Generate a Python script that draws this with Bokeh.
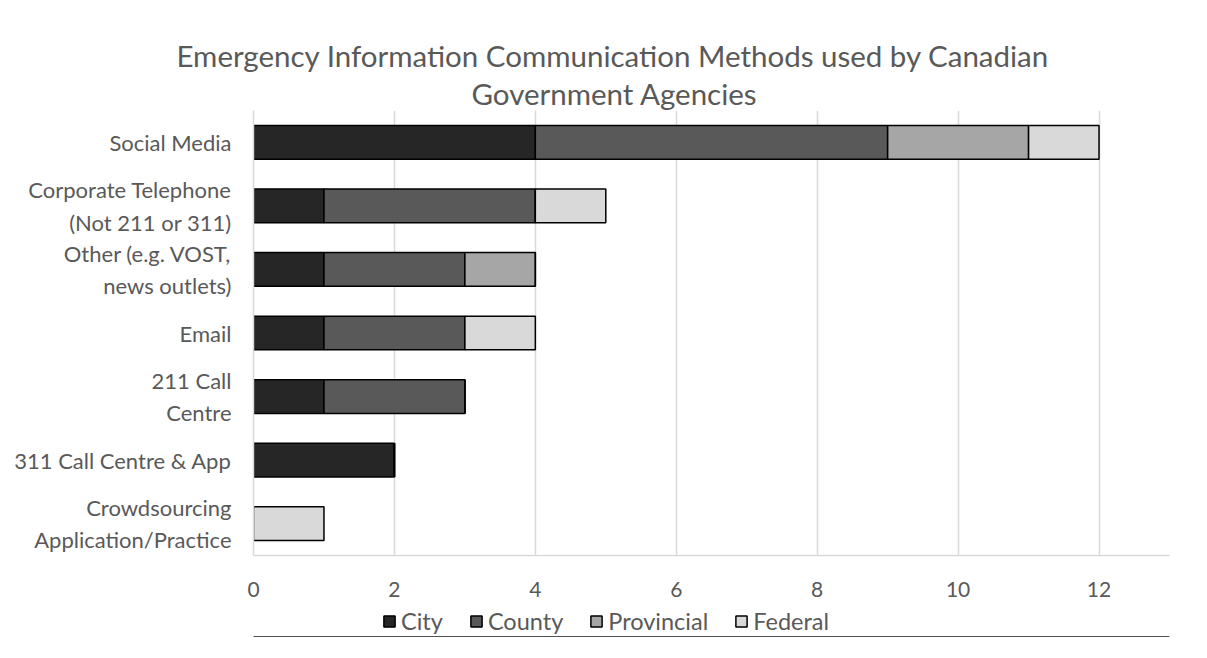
from bokeh.plotting import figure
from bokeh.models import FactorRange, FixedTicker, Legend, LegendItem, ColumnDataSource, Title
from bokeh.layouts import column
from bokeh.embed import file_html
from bokeh.resources import INLINE

categories = [
    "Social Media",
    "Corporate Telephone\n(Not 211 or 311)",
    "Other (e.g. VOST,\nnews outlets)",
    "Email",
    "211 Call\nCentre",
    "311 Call Centre & App",
    "Crowdsourcing\nApplication/Practice",
]
series = ["City", "County", "Provincial", "Federal"]
city = [4, 1, 1, 1, 1, 2, 0]
county = [5, 3, 2, 2, 2, 0, 0]
provincial = [2, 0, 1, 0, 0, 0, 0]
federal = [1, 1, 0, 1, 0, 0, 1]
colors = ["#262626", "#595959", "#a6a6a6", "#d9d9d9"]
x_ticks = [0, 2, 4, 6, 8, 10, 12]
title_lines = ["Emergency Information Communication Methods used by Canadian",
               "Government Agencies"]

FONT = "Lato"
GREY = "#595959"

source = ColumnDataSource(dict(cat=categories, City=city, County=county,
                               Provincial=provincial, Federal=federal))

p = figure(width=1199, height=605, frame_width=916, frame_height=445,
           output_backend="svg", toolbar_location=None, title=None,
           y_range=FactorRange(factors=list(reversed(categories))),
           x_range=(0, 13),
           min_border_left=253, min_border_right=30, min_border_top=110, min_border_bottom=50)

renderers = p.hbar_stack(series, y="cat", height=0.53, source=source, color=colors,
                         line_color="black", line_width=1.5)

# title: two centred lines (line 2 added first so it sits nearest the plot)
p.add_layout(Title(text=title_lines[1], align="left", offset=218, standoff=0,
                   text_font=FONT, text_font_size="29.5px", text_font_style="normal",
                   text_color=GREY), "above")
p.add_layout(Title(text=title_lines[0], align="left", offset=-77, standoff=2,
                   text_font=FONT, text_font_size="29.5px", text_font_style="normal",
                   text_color=GREY), "above")

p.outline_line_color = None
p.ygrid.grid_line_color = None
p.xgrid.grid_line_color = "#d9d9d9"
p.xgrid.grid_line_width = 1.5
p.xgrid.ticker = FixedTicker(ticks=x_ticks)

p.xaxis.ticker = FixedTicker(ticks=x_ticks)
p.xaxis.axis_line_color = "#d9d9d9"
p.xaxis.axis_line_width = 1.5
p.xaxis.major_tick_line_color = None
p.xaxis.minor_tick_line_color = None
p.xaxis.major_label_text_font = FONT
p.xaxis.major_label_text_font_size = "21px"
p.xaxis.major_label_text_color = GREY
p.xaxis.major_label_standoff = 20

p.yaxis.axis_line_color = "#d9d9d9"
p.yaxis.axis_line_width = 1.5
p.yaxis.major_tick_line_color = None
p.yaxis.minor_tick_line_color = None
p.yaxis.major_label_text_font = FONT
p.yaxis.major_label_text_font_size = "22px"
p.yaxis.major_label_text_color = GREY
p.yaxis.major_label_standoff = 16

# legend strip below the chart (swatch proxies sit outside the strip's visible range)
lg = figure(width=1199, height=32, output_backend="svg", toolbar_location=None,
            x_range=(0, 1), y_range=(0, 1), min_border=0)
lg.axis.visible = False
lg.grid.visible = False
lg.outline_line_color = None
swatches = [lg.hbar(y=[-5], right=[1], height=0.5, fill_color=c, line_color="black",
                    line_width=1.5) for c in colors]

legend = Legend(items=[LegendItem(label=s, renderers=[r]) for s, r in zip(series, swatches)],
                orientation="horizontal", location=(129, 2))
legend.label_text_font = FONT
legend.label_text_font_size = "23.5px"
legend.label_text_color = GREY
legend.glyph_width = 14
legend.glyph_height = 14
legend.label_standoff = 5
legend.spacing = 26
legend.border_line_color = None
legend.background_fill_alpha = 0
legend.padding = 0
legend.margin = 0
lg.add_layout(legend)

layout = column(p, lg)
open("out.html", "w").write(file_html(layout, INLINE))
